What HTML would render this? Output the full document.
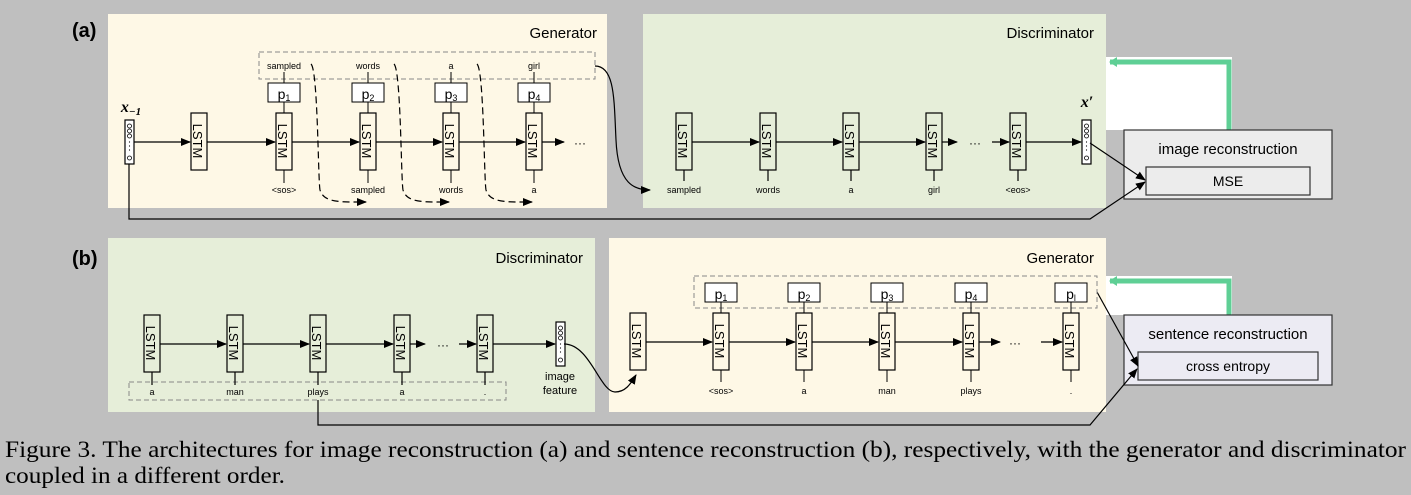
<!DOCTYPE html>
<html><head><meta charset="utf-8"><style>
html,body{margin:0;padding:0;background:#bfbfbf;}
svg{display:block;}
.serif{font-family:"Liberation Serif","Times New Roman",serif;}
</style></head><body>
<svg width="1411" height="495" viewBox="0 0 1411 495" xmlns="http://www.w3.org/2000/svg" font-family="'Liberation Sans', sans-serif">
<defs>
<marker id="ah" markerWidth="10" markerHeight="8" refX="9" refY="4" orient="auto" markerUnits="userSpaceOnUse"><path d="M0,0 L10,4 L0,8 Z" fill="#000"/></marker>
<marker id="gh" markerWidth="10" markerHeight="10" refX="7" refY="5" orient="auto" markerUnits="userSpaceOnUse"><path d="M0,0 L8,5 L0,10 Z" fill="#5fcf95"/></marker>
<g id="lstm"><rect x="-8" y="0" width="16" height="57" fill="none" stroke="#000" stroke-width="1.2"/><text transform="translate(-6,28) rotate(90)" font-size="13" text-anchor="middle">LSTM</text></g>
<g id="vec"><rect x="-4" y="0" width="9" height="44" fill="#fff" stroke="#000" stroke-width="1.2"/><circle cx="0.5" cy="6" r="2" fill="none" stroke="#000" stroke-width="0.8"/><circle cx="0.5" cy="11" r="2" fill="none" stroke="#000" stroke-width="0.8"/><circle cx="0.5" cy="16" r="2" fill="none" stroke="#000" stroke-width="0.8"/><circle cx="0.5" cy="22" r="0.6"/><circle cx="0.5" cy="26" r="0.6"/><circle cx="0.5" cy="30" r="0.6"/><circle cx="0.5" cy="38" r="2" fill="none" stroke="#000" stroke-width="0.8"/></g>
</defs>

<rect x="108" y="14" width="499" height="194" fill="#fef8e6"/>
<rect x="643" y="14" width="463" height="194" fill="#e6eed9"/>
<rect x="108" y="238" width="487" height="174" fill="#e6eed9"/>
<rect x="609" y="238" width="497" height="174" fill="#fef8e6"/>
<rect x="1106" y="57" width="126" height="73" fill="#fff"/>
<rect x="1106" y="276" width="126" height="39" fill="#fff"/>

<text x="72" y="37" font-size="20" font-weight="bold">(a)</text>
<text x="72" y="265" font-size="20" font-weight="bold">(b)</text>
<text x="597" y="38" font-size="15" text-anchor="end">Generator</text>
<text x="1094" y="38" font-size="15" text-anchor="end">Discriminator</text>
<text x="583" y="263" font-size="15" text-anchor="end">Discriminator</text>
<text x="1094" y="263" font-size="15" text-anchor="end">Generator</text>

<!-- (a) generator -->
<rect x="259" y="52" width="336" height="27" fill="none" stroke="#888" stroke-dasharray="5,3"/>
<use href="#vec" x="129" y="120"/>
<text class="serif" x="131" y="112" font-size="16" font-style="italic" font-weight="bold" text-anchor="middle">x<tspan font-size="11" dy="3">−1</tspan></text>
<use href="#lstm" x="199" y="113"/>
<use href="#lstm" x="284" y="113"/>
<use href="#lstm" x="368" y="113"/>
<use href="#lstm" x="451" y="113"/>
<use href="#lstm" x="534" y="113"/>
<g stroke="#000" stroke-width="1.2" fill="none">
<line x1="134" y1="142" x2="190" y2="142" marker-end="url(#ah)"/>
<line x1="207" y1="142" x2="275" y2="142" marker-end="url(#ah)"/>
<line x1="292" y1="142" x2="359" y2="142" marker-end="url(#ah)"/>
<line x1="376" y1="142" x2="442" y2="142" marker-end="url(#ah)"/>
<line x1="459" y1="142" x2="525" y2="142" marker-end="url(#ah)"/>
<line x1="542" y1="142" x2="564" y2="142" marker-end="url(#ah)"/>
</g>
<text x="580" y="147" font-size="12" text-anchor="middle">···</text>
<g font-size="9" text-anchor="middle">
<text x="284" y="69">sampled</text><text x="368" y="69">words</text><text x="451" y="69">a</text><text x="534" y="69">girl</text>
<text x="284" y="193">&lt;sos&gt;</text><text x="368" y="193">sampled</text><text x="451" y="193">words</text><text x="534" y="193">a</text>
</g>
<g stroke="#000" stroke-width="1" fill="#fff">
<line x1="284" y1="72" x2="284" y2="113"/><line x1="368" y1="72" x2="368" y2="113"/><line x1="451" y1="72" x2="451" y2="113"/><line x1="534" y1="72" x2="534" y2="113"/>
<line x1="284" y1="170" x2="284" y2="183"/><line x1="368" y1="170" x2="368" y2="183"/><line x1="451" y1="170" x2="451" y2="183"/><line x1="534" y1="170" x2="534" y2="183"/>
<rect x="268" y="83" width="32" height="19"/><rect x="352" y="83" width="32" height="19"/><rect x="435" y="83" width="32" height="19"/><rect x="518" y="83" width="32" height="19"/>
</g>
<g font-size="14" text-anchor="middle">
<text x="284" y="99">p<tspan font-size="9" dy="2">1</tspan></text><text x="368" y="99">p<tspan font-size="9" dy="2">2</tspan></text><text x="451" y="99">p<tspan font-size="9" dy="2">3</tspan></text><text x="534" y="99">p<tspan font-size="9" dy="2">4</tspan></text>
</g>
<g stroke="#000" stroke-width="1.2" fill="none" stroke-dasharray="7,4">
<path d="M311,64 C318,70 318,180 320,190 C324,203 340,202 366,202" marker-end="url(#ah)"/>
<path d="M394,64 C401,70 401,180 403,190 C407,203 423,202 449,202" marker-end="url(#ah)"/>
<path d="M477,64 C484,70 484,180 486,190 C490,203 506,202 532,202" marker-end="url(#ah)"/>
</g>
<path d="M595,66 C615,66 614,100 616,140 C618,185 635,190 650,190" stroke="#000" stroke-width="1.2" fill="none" marker-end="url(#ah)"/>

<!-- (a) discriminator -->
<use href="#lstm" x="684" y="113"/>
<use href="#lstm" x="768" y="113"/>
<use href="#lstm" x="851" y="113"/>
<use href="#lstm" x="934" y="113"/>
<use href="#lstm" x="1018" y="113"/>
<use href="#vec" x="1086" y="120"/>
<text class="serif" x="1087" y="107" font-size="16" font-style="italic" font-weight="bold" text-anchor="middle">x′</text>
<g stroke="#000" stroke-width="1.2" fill="none">
<line x1="692" y1="142" x2="759" y2="142" marker-end="url(#ah)"/>
<line x1="776" y1="142" x2="842" y2="142" marker-end="url(#ah)"/>
<line x1="859" y1="142" x2="925" y2="142" marker-end="url(#ah)"/>
<line x1="942" y1="142" x2="957" y2="142" marker-end="url(#ah)"/>
<line x1="992" y1="142" x2="1009" y2="142" marker-end="url(#ah)"/>
<line x1="1026" y1="142" x2="1081" y2="142" marker-end="url(#ah)"/>
<line x1="684" y1="170" x2="684" y2="181"/><line x1="768" y1="170" x2="768" y2="181"/><line x1="851" y1="170" x2="851" y2="181"/><line x1="934" y1="170" x2="934" y2="181"/><line x1="1018" y1="170" x2="1018" y2="181"/>
</g>
<text x="975" y="147" font-size="12" text-anchor="middle">···</text>
<g font-size="9" text-anchor="middle">
<text x="684" y="193">sampled</text><text x="768" y="193">words</text><text x="851" y="193">a</text><text x="934" y="193">girl</text><text x="1018" y="193">&lt;eos&gt;</text>
</g>

<path d="M1229,130 L1229,62 L1110,62" stroke="#5fcf95" stroke-width="5" fill="none" marker-end="url(#gh)"/>
<path d="M1229,315 L1229,281 L1110,281" stroke="#5fcf95" stroke-width="5" fill="none" marker-end="url(#gh)"/>

<rect x="1124" y="130" width="208" height="69" fill="#ececec" stroke="#333" stroke-width="1.2"/>
<text x="1228" y="154" font-size="15" text-anchor="middle">image reconstruction</text>
<rect x="1146" y="167" width="164" height="28" fill="#ececec" stroke="#333" stroke-width="1.2"/>
<text x="1228" y="186" font-size="14" text-anchor="middle">MSE</text>
<rect x="1124" y="315" width="208" height="70" fill="#ecebf3" stroke="#333" stroke-width="1.2"/>
<text x="1228" y="339" font-size="15" text-anchor="middle">sentence reconstruction</text>
<rect x="1138" y="352" width="180" height="28" fill="#ecebf3" stroke="#333" stroke-width="1.2"/>
<text x="1228" y="371" font-size="14" text-anchor="middle">cross entropy</text>

<g stroke="#000" stroke-width="1.2" fill="none">
<path d="M129,164 L129,219 L1090,219 L1145,182" marker-end="url(#ah)"/>
<line x1="1090" y1="143" x2="1145" y2="180" marker-end="url(#ah)"/>
<path d="M318,400 L318,425 L1090,425 L1137,369" marker-end="url(#ah)"/>
<line x1="1097" y1="292" x2="1138" y2="366" marker-end="url(#ah)"/>
</g>

<!-- (b) discriminator -->
<rect x="129" y="382" width="377" height="18" fill="none" stroke="#888" stroke-dasharray="5,3"/>
<use href="#lstm" x="152" y="315"/>
<use href="#lstm" x="235" y="315"/>
<use href="#lstm" x="318" y="315"/>
<use href="#lstm" x="402" y="315"/>
<use href="#lstm" x="485" y="315"/>
<use href="#vec" x="560" y="322"/>
<g stroke="#000" stroke-width="1.2" fill="none">
<line x1="160" y1="344" x2="226" y2="344" marker-end="url(#ah)"/>
<line x1="243" y1="344" x2="309" y2="344" marker-end="url(#ah)"/>
<line x1="326" y1="344" x2="393" y2="344" marker-end="url(#ah)"/>
<line x1="410" y1="344" x2="425" y2="344" marker-end="url(#ah)"/>
<line x1="459" y1="344" x2="476" y2="344" marker-end="url(#ah)"/>
<line x1="493" y1="344" x2="555" y2="344" marker-end="url(#ah)"/>
<line x1="152" y1="372" x2="152" y2="385"/><line x1="235" y1="372" x2="235" y2="385"/><line x1="318" y1="372" x2="318" y2="385"/><line x1="402" y1="372" x2="402" y2="385"/><line x1="485" y1="372" x2="485" y2="385"/>
<path d="M564,344 C590,344 600,392 615,392 C625,392 630,385 636,375" marker-end="url(#ah)"/>
</g>
<text x="443" y="349" font-size="12" text-anchor="middle">···</text>
<g font-size="9" text-anchor="middle">
<text x="152" y="395">a</text><text x="235" y="395">man</text><text x="318" y="395">plays</text><text x="402" y="395">a</text><text x="485" y="395">.</text>
</g>
<text x="560" y="380" font-size="11" text-anchor="middle">image</text>
<text x="560" y="394" font-size="11" text-anchor="middle">feature</text>

<!-- (b) generator -->
<rect x="694" y="276" width="403" height="32" fill="none" stroke="#888" stroke-dasharray="5,3"/>
<use href="#lstm" x="638" y="313"/>
<use href="#lstm" x="721" y="313"/>
<use href="#lstm" x="804" y="313"/>
<use href="#lstm" x="887" y="313"/>
<use href="#lstm" x="971" y="313"/>
<use href="#lstm" x="1071" y="313"/>
<g stroke="#000" stroke-width="1.2" fill="none">
<line x1="646" y1="342" x2="712" y2="342" marker-end="url(#ah)"/>
<line x1="729" y1="342" x2="795" y2="342" marker-end="url(#ah)"/>
<line x1="812" y1="342" x2="878" y2="342" marker-end="url(#ah)"/>
<line x1="895" y1="342" x2="962" y2="342" marker-end="url(#ah)"/>
<line x1="979" y1="342" x2="1000" y2="342" marker-end="url(#ah)"/>
<line x1="1041" y1="342" x2="1062" y2="342" marker-end="url(#ah)"/>
</g>
<text x="1015" y="347" font-size="12" text-anchor="middle">···</text>
<g stroke="#000" stroke-width="1" fill="#fff">
<line x1="721" y1="302" x2="721" y2="313"/><line x1="804" y1="302" x2="804" y2="313"/><line x1="887" y1="302" x2="887" y2="313"/><line x1="971" y1="302" x2="971" y2="313"/><line x1="1071" y1="302" x2="1071" y2="313"/>
<line x1="721" y1="370" x2="721" y2="382"/><line x1="804" y1="370" x2="804" y2="382"/><line x1="887" y1="370" x2="887" y2="382"/><line x1="971" y1="370" x2="971" y2="382"/><line x1="1071" y1="370" x2="1071" y2="382"/>
<rect x="705" y="283" width="32" height="19"/><rect x="788" y="283" width="32" height="19"/><rect x="871" y="283" width="32" height="19"/><rect x="955" y="283" width="32" height="19"/><rect x="1055" y="283" width="32" height="19"/>
</g>
<g font-size="14" text-anchor="middle">
<text x="721" y="299">p<tspan font-size="9" dy="2">1</tspan></text><text x="804" y="299">p<tspan font-size="9" dy="2">2</tspan></text><text x="887" y="299">p<tspan font-size="9" dy="2">3</tspan></text><text x="971" y="299">p<tspan font-size="9" dy="2">4</tspan></text><text x="1071" y="299">p<tspan font-size="9" dy="2">l</tspan></text>
</g>
<g font-size="9" text-anchor="middle">
<text x="721" y="394">&lt;sos&gt;</text><text x="804" y="394">a</text><text x="887" y="394">man</text><text x="971" y="394">plays</text><text x="1071" y="394">.</text>
</g>

<text class="serif" x="5" y="457" font-size="23" textLength="1401" lengthAdjust="spacingAndGlyphs">Figure 3. The architectures for image reconstruction (a) and sentence reconstruction (b), respectively, with the generator and discriminator</text>
<text class="serif" x="5" y="483" font-size="23" textLength="280" lengthAdjust="spacingAndGlyphs">coupled in a different order.</text>
</svg>
</body></html>
